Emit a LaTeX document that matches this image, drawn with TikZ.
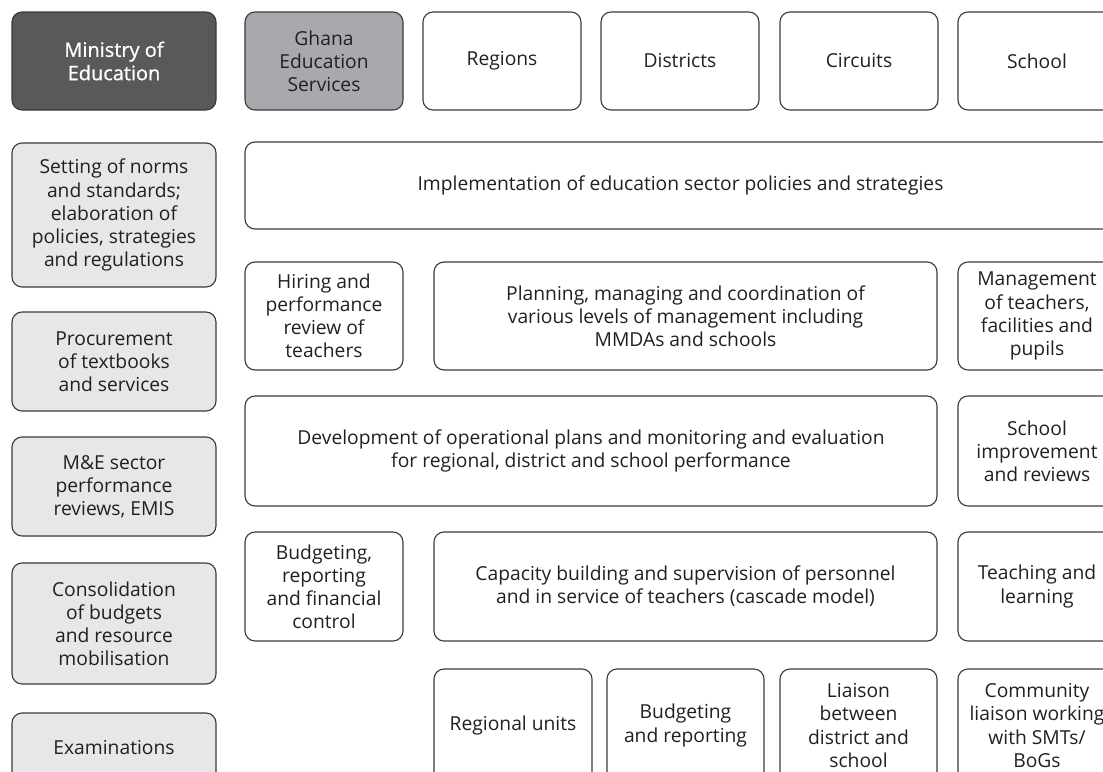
\documentclass[tikz,border=0pt]{standalone}
\usepackage{fontspec}
\setmainfont{Open Sans}
\usepackage{xcolor}
\usetikzlibrary{positioning}

\definecolor{moedark}{HTML}{58595B}
\definecolor{gesgray}{HTML}{A7A9AC}
\definecolor{paleGray}{HTML}{E6E7E8}
\definecolor{edgegray}{HTML}{3A3A3C}
\definecolor{inkgray}{HTML}{231F20}

\begin{document}
\begin{tikzpicture}[x=0.025cm, y=-0.025cm,
		box/.style={draw=edgegray, line width=0.8pt, rounded corners=0.25cm,
			align=center, inner sep=0pt, text=inkgray,
			font=\fontsize{13.7pt}{16.4pt}\selectfont},
		wh/.style 2 args={minimum width=#1*0.025cm, minimum height=#2*0.025cm},
		level/.style={box, wh={158}{98}},
		task/.style={box, fill=paleGray, wh={204}{#1}}]
		\useasboundingbox (0,0) rectangle (1103,771);
		\clip (0,0) rectangle (1103,771);
		
		%% header row
		\node [box, wh={204}{98}, fill=moedark, text=white,
			font=\fontsize{14.2pt}{16.6pt}\selectfont\addfontfeature{FakeBold=0.8}] (moe) at (114,61) {Ministry of\\Education};
		\node [level, fill=gesgray] (ges) at (324,61) {Ghana\\Education\\Services};
		\node [level] (regions) at (502,61) {Regions};
		\node [level] (districts) at (680,61) {Districts};
		\node [level] (circuits) at (859,61) {Circuits};
		\node [level] (school) at (1037,61) {School};
		
		%% ministry tasks
		\node [task=144] (norms) at (114,215) {Setting of norms\\and standards;\\elaboration of\\policies, strategies\\and regulations};
		\node [task=99] (procure) at (114,361.5) {Procurement\\of textbooks\\and services};
		\node [task=99] (mande) at (114,486.5) {M\&E sector\\performance\\reviews, EMIS};
		\node [task=121] (consol) at (114,623.5) {Consolidation\\of budgets\\and resource\\mobilisation};
		\node [task=69] (exams) at (114,747.5) {Examinations};
		
		%% implementation
		\node [box, wh={871}{87}] (implement) at (680.5,185.5) {Implementation of education sector policies and strategies};
		
		\node [box, wh={158}{108}] (hiring) at (324,316) {Hiring and\\performance\\review of\\teachers};
		\node [box, wh={503}{108}] (planning) at (685.5,316) {Planning, managing and coordination of\\various levels of management including\\MMDAs and schools};
		\node [box, wh={158}{108}] (manage) at (1037,316) {Management\\of teachers,\\facilities and\\pupils};
		
		\node [box, wh={692}{110}] (develop) at (591,451) {Development of operational plans and monitoring and evaluation\\for regional, district and school performance};
		\node [box, wh={158}{110}] (improve) at (1037,451) {School\\improvement\\and reviews};
		
		\node [box, wh={158}{109}] (budget) at (324,586.5) {Budgeting,\\reporting\\and financial\\control};
		\node [box, wh={503}{109}] (capacity) at (685.5,586.5) {Capacity building and supervision of personnel\\and in service of teachers (cascade model)};
		\node [box, wh={158}{109}] (teaching) at (1037,586.5) {Teaching and\\learning};
		
		%% bottom row
		\node [box, wh={158}{113}] (units) at (513,725.5) {Regional units};
		\node [box, wh={157}{113}] (reporting) at (685.5,725.5) {Budgeting\\and reporting};
		\node [box, wh={157}{113}] (liaison) at (858.5,725.5) {Liaison\\between\\district and\\school};
		\node [box, wh={158}{113}] (community) at (1037,725.5) {Community\\liaison working\\with SMTs/\\BoGs};
	\end{tikzpicture}
\end{document}
